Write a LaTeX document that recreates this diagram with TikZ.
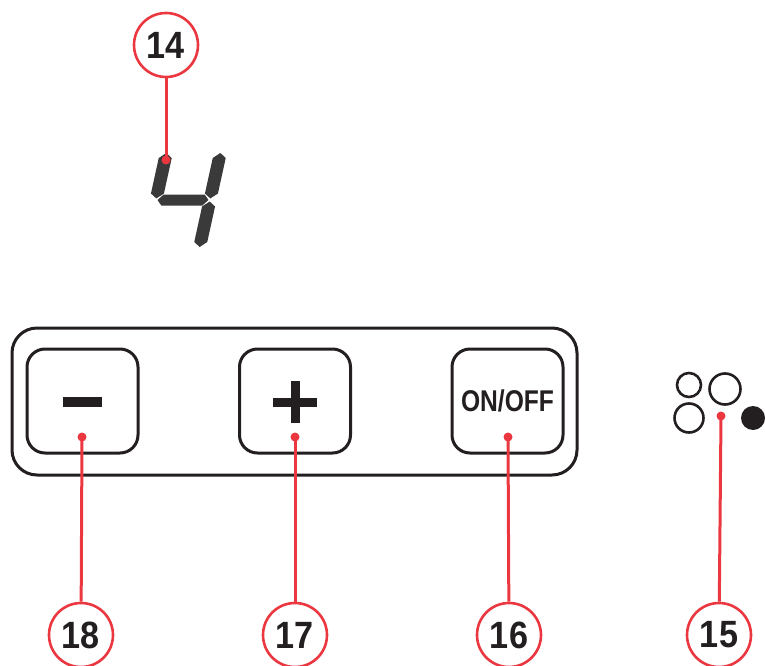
\documentclass[tikz,border=0pt]{standalone}
\usepackage{fontspec}
\setmainfont{Liberation Sans}
\definecolor{callred}{RGB}{235,56,64}
\definecolor{ink}{RGB}{35,31,32}
\definecolor{segment}{RGB}{58,58,58}
\tikzset{
  callout/.style={circle,draw=callred,line width=2.6pt,fill=white,minimum size=64pt,inner sep=0pt,
    font=\bfseries\fontsize{38}{38}\selectfont,text=ink},
  key/.style={draw=ink,rounded corners=18pt,line width=3pt,minimum width=111pt,minimum height=104pt},
  lamp/.style={circle,draw=ink,line width=2.6pt,inner sep=0pt},
  leader/.style={callred,line width=3pt},
}
% one segment of the display, vertical or horizontal
\newcommand{\vseg}[3]{\fill[segment] (#1,#2) -- ++(6.5,5) -- (#1+6.5,#3-5) -- (#1,#3)
  -- (#1-6.5,#3-5) -- (#1-6.5,#2+5) -- cycle;}
\newcommand{\hseg}[3]{\fill[segment] (#2,#1) -- (#2+5,#1-5.5) -- (#3-5,#1-5.5) -- (#3,#1)
  -- (#3-5,#1+5.5) -- (#2+5,#1+5.5) -- cycle;}
\newcommand{\num}[1]{\scalebox{0.9}[1]{#1}}
\begin{document}
\begin{tikzpicture}[x=1pt,y=-1pt]
  \useasboundingbox (0,0) rectangle (765,666);
  % display
  \begin{scope}[shift={(183,200)},xslant=0.22]
    \vseg{-27}{-47}{-1.5}
    \vseg{27}{-47}{-1.5}
    \vseg{27}{1.5}{47}
    \hseg{0}{-25.5}{25.5}
  \end{scope}
  % panel and keys
  \draw
    (294.5,401.5) node[draw=ink,line width=3pt,rounded corners=25pt,minimum width=565pt,minimum height=147pt] (panel){}
    (82.5,401) node[key] (minus){}
    (295,401) node[key] (plus){}
    (507.5,401) node[key,font=\bfseries\fontsize{30}{30}\selectfont,text=ink] (onoff){\scalebox{0.82}[1]{ON/OFF}};
  \draw[ink,line width=10pt] (63,402) -- (102,402);
  \draw[ink,line width=9pt] (273,402) -- (317,402) (295,381) -- (295,423);
  % lamps
  \draw
    (689,385) node[lamp,minimum size=24pt] (lamp1){}
    (725,389) node[lamp,minimum size=31pt] (lamp2){}
    (689,418) node[lamp,minimum size=29pt] (lamp3){}
    (753,418) node[circle,fill=ink,inner sep=0pt,minimum size=24pt] (lamp4){};
  % callouts
  \coordinate (p14) at (166,160);
  \coordinate (p18) at (82,437);
  \coordinate (p17) at (295,437);
  \coordinate (p16) at (508,437);
  \coordinate (p15) at (721,416);
  \draw
    (166,45) node[callout] (c14){\num{14}}
    (81,635) node[callout] (c18){\num{18}}
    (295,635) node[callout] (c17){\num{17}}
    (509,635) node[callout] (c16){\num{16}}
    (719,635) node[callout] (c15){\num{15}};
  \begin{scope}[leader]
    \draw (c14) to (p14);
    \draw (c18) to (p18);
    \draw (c17) to (p17);
    \draw (c16) to (p16);
    \draw (c15) to (p15);
    \fill (p14) circle (4.5) (p18) circle (4.5) (p17) circle (4.5) (p16) circle (4.5) (p15) circle (4.5);
  \end{scope}
\end{tikzpicture}
\end{document}
